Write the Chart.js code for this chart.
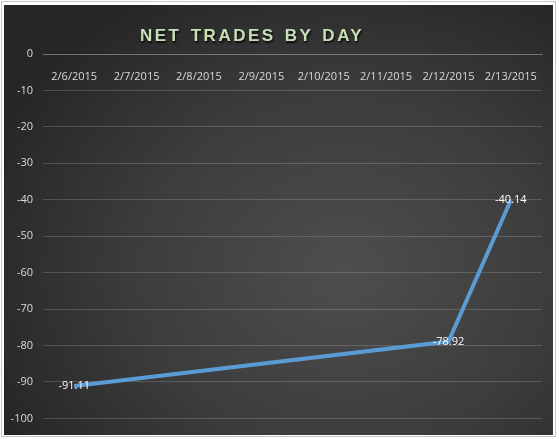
<!DOCTYPE html>
<html lang="en">
<head>
  <meta charset="UTF-8" />
  <title>Net Trades By Day</title>
  <script src="https://cdn.jsdelivr.net/npm/chart.js"></script>
  <style>
    body {
      margin: 0;
      background: #fff;
    }
    .frame {
      position: absolute;
      left: 1px;
      top: 1px;
      width: 555px;
      height: 436px;
      border: 1px solid #c6c6c6;
      box-sizing: border-box;
    }
    .chart-box {
      position: absolute;
      left: 4px;
      top: 5px;
      width: 549px;
      height: 430px;
      background: radial-gradient(ellipse 70% 75% at 62% 62%, #4e4e4e 0%, #3c3c3c 55%, #262626 100%);
    }
    .chart-title {
      position: absolute;
      left: 136px;
      top: 21px;
      font-family: 'Liberation Sans', sans-serif;
      font-weight: bold;
      font-size: 17px;
      letter-spacing: 2.5px;
      word-spacing: 2px;
      color: #c6e0b4;
      text-shadow: 1px 2px 2px rgba(0,0,0,0.8);
    }
    canvas {
      position: absolute;
      left: 0;
      top: 0;
    }
  </style>
</head>
<body>
  <div class="frame"></div>
  <div class="chart-box">
    <canvas id="tradesChart" width="549" height="430"></canvas>
    <div class="chart-title">NET TRADES BY DAY</div>
  </div>

  <script>
    const days = ["2/6/2015", "2/7/2015", "2/8/2015", "2/9/2015", "2/10/2015", "2/11/2015", "2/12/2015", "2/13/2015"];
    // only three days carry a value, the line jumps over the empty ones
    const netTrades = [-91.11, null, null, null, null, null, -78.92, -40.14];
    const yMin = -100;
    const yMax = 0;
    const yStep = 10;

    const tickFont = { family: "'Open Sans', sans-serif", size: 11 };

    // white value labels sitting right on top of each point
    const pointLabels = {
      id: 'pointLabels',
      afterDatasetsDraw(chart) {
        const c = chart.ctx;
        const meta = chart.getDatasetMeta(0);
        c.save();
        c.fillStyle = '#ffffff';
        c.font = "11px 'Open Sans', sans-serif";
        c.textAlign = 'center';
        c.textBaseline = 'middle';
        meta.data.forEach((pt, i) => {
          const v = netTrades[i];
          if (v === null) return;
          c.fillText(v.toFixed(2), pt.x, pt.y);
        });
        c.restore();
      }
    };

    new Chart(document.getElementById('tradesChart').getContext('2d'), {
      type: 'line',
      data: {
        labels: days,
        datasets: [{
          data: netTrades,
          borderColor: '#5b9bd5',
          borderWidth: 4,
          pointRadius: 0,
          spanGaps: true,
          tension: 0
        }]
      },
      options: {
        responsive: false,
        animation: false,
        layout: { padding: { top: 49, right: 11, bottom: 15, left: 0 } },
        plugins: {
          legend: { display: false },
          tooltip: { enabled: false }
        },
        scales: {
          x: {
            position: { y: 0 },
            offset: true,
            afterFit(scale) { scale.height = 0; },
            grid: { display: false },
            border: { display: true, color: 'rgba(255,255,255,0.22)' },
            ticks: { color: '#d9d9d9', font: tickFont, padding: 8, maxRotation: 0, autoSkip: false }
          },
          y: {
            min: yMin,
            max: yMax,
            afterFit(scale) { scale.width = 39; },
            border: { display: false },
            grid: { color: 'rgba(255,255,255,0.17)', drawTicks: false },
            ticks: { stepSize: yStep, color: '#d9d9d9', font: tickFont, padding: 10 }
          }
        }
      },
      plugins: [pointLabels]
    });
  </script>
</body>
</html>
